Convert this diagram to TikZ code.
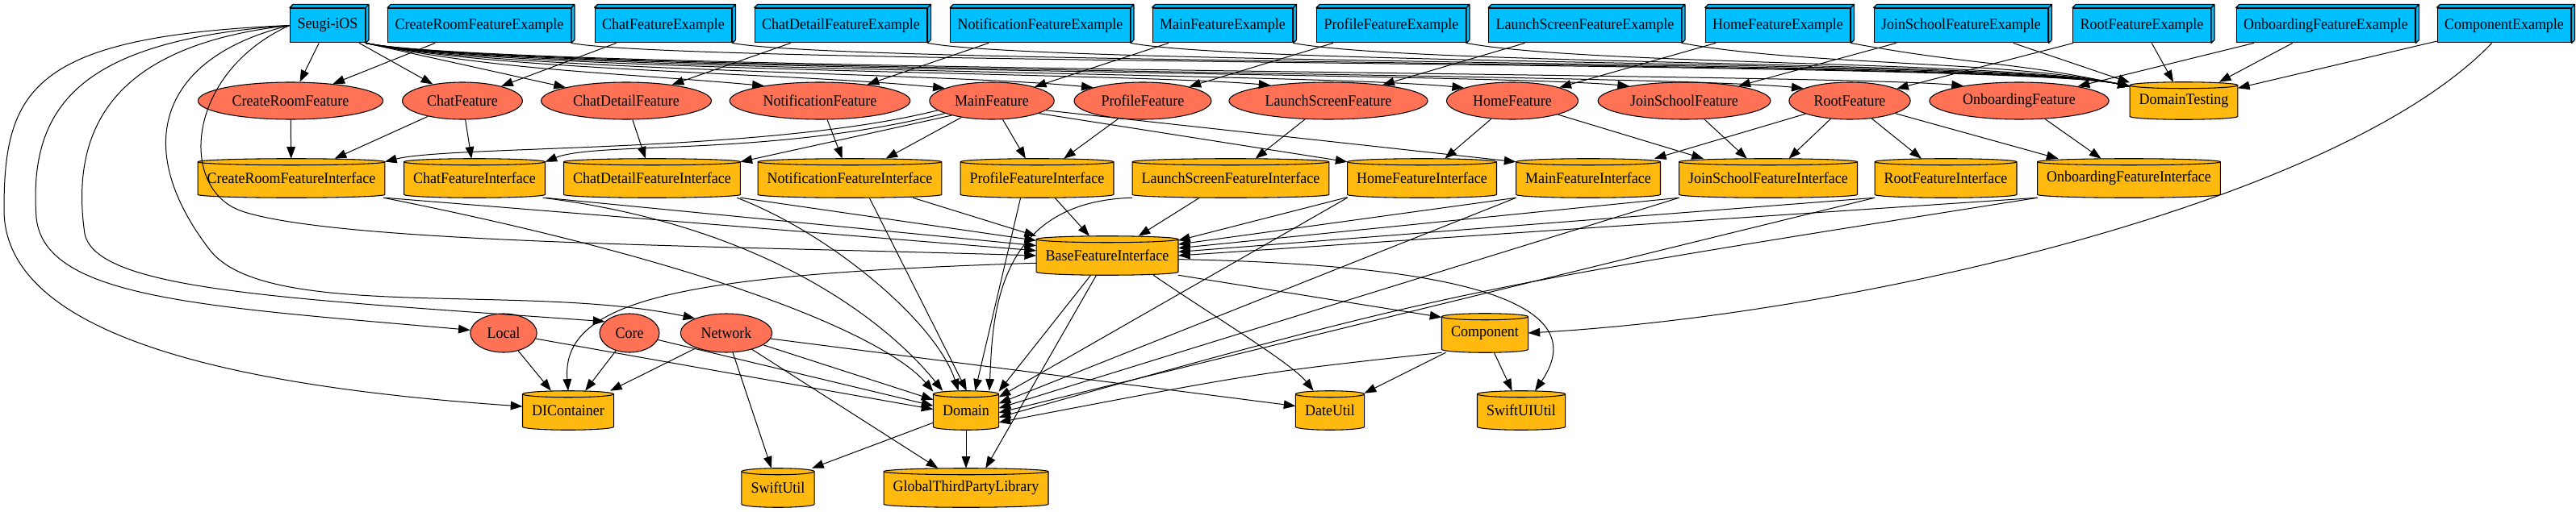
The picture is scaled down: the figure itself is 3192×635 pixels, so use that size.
\documentclass[tikz,border=0pt]{standalone}
\usepackage{fontspec}
\setmainfont{Liberation Serif}[FakeStretch=0.93]
\usetikzlibrary{arrows.meta, shapes.geometric, calc, backgrounds}

\definecolor{exblue}{HTML}{00BFFF}
\definecolor{featred}{HTML}{FF7256}
\definecolor{modgold}{HTML}{FFB90F}

\tikzset{
  exbox/.style={rectangle, draw, fill=exblue, line width=0.9pt, minimum height=32pt, inner xsep=6.75pt},
  featnode/.style={ellipse, draw, fill=featred, line width=0.8pt, minimum height=34.5pt, inner xsep=6.5pt, inner ysep=1pt},
  modnode/.style={rectangle, minimum height=36pt, inner xsep=8.5pt},
  dep/.style={-{Triangle[length=11pt,width=8pt]}, line width=0.75pt},
  cylface/.style={draw, fill=modgold, line width=0.8pt},
  boxface/.style={draw, fill=exblue, line width=0.9pt, line join=round}
}

\begin{document}
\begin{tikzpicture}[x=0.75pt, y=0.75pt, font=\fontsize{14.5}{17}\selectfont]
    \useasboundingbox (0,0) rectangle (3192,-635);

    % Example targets (top row)
    \node[exbox] (seugi) at (406,-31.5) {Seugi-iOS};
    \node[exbox] (crfe) at (594,-31.5) {CreateRoomFeatureExample};
    \node[exbox] (chfe) at (822,-31.5) {ChatFeatureExample};
    \node[exbox] (cdfe) at (1042,-31.5) {ChatDetailFeatureExample};
    \node[exbox] (nfe) at (1289,-31.5) {NotificationFeatureExample};
    \node[exbox] (mfe) at (1515,-31.5) {MainFeatureExample};
    \node[exbox] (pfe) at (1724,-31.5) {ProfileFeatureExample};
    \node[exbox] (lsfe) at (1964,-31.5) {LaunchScreenFeatureExample};
    \node[exbox] (hfe) at (2203,-31.5) {HomeFeatureExample};
    \node[exbox] (jsfe) at (2430,-31.5) {JoinSchoolFeatureExample};
    \node[exbox] (rfe) at (2654,-31.5) {RootFeatureExample};
    \node[exbox] (ofe) at (2882,-31.5) {OnboardingFeatureExample};
    \node[exbox] (cpe) at (3103,-31.5) {ComponentExample};

    % Features
    \node[featnode] (crf) at (360,-125) {CreateRoomFeature};
    \node[featnode] (chf) at (573,-125) {ChatFeature};
    \node[featnode] (cdf) at (776,-125) {ChatDetailFeature};
    \node[featnode] (nf) at (1016,-125) {NotificationFeature};
    \node[featnode] (mf) at (1229,-125) {MainFeature};
    \node[featnode] (pf) at (1416,-125) {ProfileFeature};
    \node[featnode] (lsf) at (1646,-125) {LaunchScreenFeature};
    \node[featnode] (hf) at (1874,-125) {HomeFeature};
    \node[featnode] (jsf) at (2087,-125) {JoinSchoolFeature};
    \node[featnode] (rf) at (2292,-125) {RootFeature};
    \node[featnode] (of) at (2502,-125) {OnboardingFeature};
    \node[modnode, minimum height=34.5pt] (dt) at (2706,-125) {DomainTesting};

    % Interfaces
    \node[modnode] (crfi) at (361,-221) {CreateRoomFeatureInterface};
    \node[modnode] (chfi) at (588,-221) {ChatFeatureInterface};
    \node[modnode] (cdfi) at (808,-221) {ChatDetailFeatureInterface};
    \node[modnode] (nfi) at (1053,-221) {NotificationFeatureInterface};
    \node[modnode] (pfi) at (1285,-221) {ProfileFeatureInterface};
    \node[modnode] (lsfi) at (1525,-221) {LaunchScreenFeatureInterface};
    \node[modnode] (hfi) at (1762,-221) {HomeFeatureInterface};
    \node[modnode] (mfi) at (1968,-221) {MainFeatureInterface};
    \node[modnode] (jsfi) at (2191,-221) {JoinSchoolFeatureInterface};
    \node[modnode] (rfi) at (2411,-221) {RootFeatureInterface};
    \node[modnode] (ofi) at (2638,-221) {OnboardingFeatureInterface};
    \node[modnode] (bfi) at (1372,-317) {BaseFeatureInterface};

    % Core modules
    \node[featnode, minimum height=36pt] (local) at (624,-413) {Local};
    \node[featnode, minimum height=36pt] (core) at (780,-413) {Core};
    \node[featnode, minimum height=36pt] (net) at (900,-413) {Network};
    \node[modnode] (comp) at (1840,-413) {Component};
    \node[modnode] (dic) at (704,-509) {DIContainer};
    \node[modnode] (dom) at (1197,-509) {Domain};
    \node[modnode] (du) at (1648,-509) {DateUtil};
    \node[modnode] (sui) at (1885,-509) {SwiftUIUtil};
    \node[modnode] (su) at (964,-605) {SwiftUtil};
    \node[modnode] (gtpl) at (1197,-605) {GlobalThirdPartyLibrary};

    % Seugi-iOS -> features
    \draw[dep] (seugi) -- (crf);
    \draw[dep] (seugi) -- (chf);
    \draw[dep] (seugi.south east) -- (cdf);
    \foreach \f/\cx in {nf/1016, mf/1229, pf/1416, lsf/1646, hf/1874, jsf/2087, rf/2292, of/2502}
        \draw[dep] (seugi.south east) .. controls (620,-88) and (\cx-250,-90) .. (\f.165);

    % Seugi-iOS -> modules (left side)
    \draw[dep] (seugi.west) .. controls (40,-45) and (5,-110) .. (5,-260) .. controls (5,-420) and (300,-480) .. (dic.175);
    \draw[dep] (seugi.west) .. controls (100,-50) and (35,-130) .. (45,-270) .. controls (55,-370) and (250,-380) .. (local.175);
    \draw[dep] (seugi.west) .. controls (150,-55) and (85,-150) .. (105,-290) .. controls (120,-360) and (350,-370) .. (core.155);
    \draw[dep] (seugi.west) .. controls (200,-70) and (160,-180) .. (260,-310) .. controls (330,-400) and (650,-350) .. (net.155);
    \draw[dep] (seugi.west) .. controls (230,-90) and (220,-235) .. (300,-262) .. controls (420,-302) and (900,-305) .. (bfi.180);

    % Examples -> features
    \draw[dep] (crfe) -- (crf);
    \draw[dep] (chfe) -- (chf);
    \draw[dep] (cdfe) -- (cdf);
    \draw[dep] (nfe) -- (nf);
    \draw[dep] (mfe) -- (mf);
    \draw[dep] (pfe) -- (pf);
    \draw[dep] (lsfe) -- (lsf);
    \draw[dep] (hfe) -- (hf);
    \draw[dep] (jsfe) -- (jsf);
    \draw[dep] (rfe) -- (rf);
    \draw[dep] (ofe) -- (of);
    \draw[dep] (cpe.235) .. controls (2900,-250) and (2300,-390) .. (comp.east);

    % Examples -> DomainTesting
    \foreach \e in {crfe, chfe, cdfe, nfe, mfe, pfe, lsfe, hfe}
        \draw[dep] (\e.south east) .. controls +(150,-28) and +(-150,32) .. (dt.165);
    \draw[dep] (jsfe) -- (dt);
    \draw[dep] (rfe) -- (dt);
    \draw[dep] (ofe) -- (dt);
    \draw[dep] (cpe) -- (dt);

    % Features -> interfaces
    \draw[dep] (crf) -- (crfi);
    \draw[dep] (chf) -- (crfi);
    \draw[dep] (chf) -- (chfi);
    \draw[dep] (cdf) -- (cdfi);
    \draw[dep] (nf) -- (nfi);
    \draw[dep] (mf.190) .. controls (950,-190) and (560,-180) .. (crfi.10);
    \draw[dep] (mf.195) .. controls (950,-195) and (740,-175) .. ($(chfi.north east)+(0,-4)$);
    \draw[dep] (mf.200) -- ($(cdfi.north east)+(0,-4)$);
    \draw[dep] (mf) -- (nfi);
    \draw[dep] (mf) -- (pfi);
    \draw[dep] (mf.-15) -- ($(hfi.north west)+(0,-4)$);
    \draw[dep] (mf.-10) -- ($(mfi.north west)+(0,-4)$);
    \draw[dep] (pf) -- (pfi);
    \draw[dep] (lsf) -- (lsfi);
    \draw[dep] (hf) -- (hfi);
    \draw[dep] (hf) -- (jsfi);
    \draw[dep] (jsf) -- (jsfi);
    \draw[dep] (rf) -- (mfi);
    \draw[dep] (rf) -- (jsfi);
    \draw[dep] (rf) -- (rfi);
    \draw[dep] (rf) -- (ofi);
    \draw[dep] (of) -- (ofi);

    % Interfaces -> BaseFeatureInterface
    \draw[dep] (crfi.south east) -- (bfi.176);
    \draw[dep] (chfi.south east) -- (bfi.172);
    \draw[dep] (cdfi.south east) -- (bfi.168);
    \draw[dep] (nfi) -- (bfi.north west);
    \draw[dep] (pfi) -- (bfi);
    \draw[dep] (lsfi) -- (bfi);
    \draw[dep] (hfi) -- (bfi.12);
    \draw[dep] (mfi.south west) -- (bfi.9);
    \draw[dep] (jsfi.south west) -- (bfi.6);
    \draw[dep] (rfi.south west) -- (bfi.3);
    \draw[dep] (ofi.south west) -- (bfi.0);

    % Interfaces -> Domain
    \draw[dep] (crfi.-12) .. controls (900,-330) and (1100,-420) .. (dom.150);
    \draw[dep] (chfi.-16) .. controls (950,-280) and (1100,-400) .. (dom.140);
    \draw[dep] (cdfi.-13) .. controls (1030,-290) and (1160,-400) .. (dom.111);
    \draw[dep] (nfi.-45) -- (dom.88);
    \draw[dep] (pfi.-130) -- (dom.65);
    \draw[dep] (lsfi.south west) .. controls (1230,-250) and (1230,-400) .. (dom.40);
    \draw[dep] (hfi.south west) -- (dom.22);
    \draw[dep] (mfi.south west) -- (dom.12);
    \draw[dep] (jsfi.south west) -- (dom.4);
    \draw[dep] (rfi.south west) -- (dom.-4);
    \draw[dep] (ofi.south west) .. controls (1800,-360) .. (dom.-12);

    % BaseFeatureInterface
    \draw[dep] (bfi.-130) -- (dom.30);
    \draw[dep] (bfi.186) .. controls (850,-340) and (695,-370) .. (dic.north);
    \draw[dep] (bfi.-119) -- (gtpl.45);
    \draw[dep] (bfi.south east) -- (comp.160);
    \draw[dep] (bfi.-23) .. controls (1500,-390) and (1600,-450) .. (du.130);
    \draw[dep] (bfi.-3) .. controls (1900,-330) and (1960,-400) .. (sui.55);

    % Local, Core, Network
    \draw[dep] (local) -- (dic.131);
    \draw[dep] (local) -- (dom.178);
    \draw[dep] (core) -- (dic.49);
    \draw[dep] (core) -- (dom.172);
    \draw[dep] (net) -- (dic.25);
    \draw[dep] (net) -- (dom.162);
    \draw[dep] (net) -- (su);
    \draw[dep] (net) -- (gtpl.145);
    \draw[dep] (net) -- (du);

    % Component, Domain
    \draw[dep] (comp.south west) .. controls (1560,-462) .. (dom.-20);
    \draw[dep] (comp) -- (du);
    \draw[dep] (comp) -- (sui);
    \draw[dep] (dom) -- (su.30);
    \draw[dep] (dom) -- (gtpl);

    % cylinders and box sides
    \begin{scope}[on background layer]
        \foreach \cyl in {dt, crfi, chfi, cdfi, nfi, pfi, lsfi, hfi, mfi, jsfi, rfi, ofi, bfi, comp, dic, dom, du, sui, su, gtpl} {
            \draw[cylface] let \p1=(\cyl.north west), \p2=(\cyl.south east), \n1={(\x2-\x1)/2} in
                (\x1,\y1-3pt) -- (\x1,\y2+3pt) arc[start angle=180, end angle=360, x radius=\n1, y radius=3pt]
                -- (\x2,\y1-3pt) arc[start angle=0, end angle=180, x radius=\n1, y radius=3pt] -- cycle;
            \draw[line width=0.8pt] let \p1=(\cyl.north west), \p2=(\cyl.south east), \n1={(\x2-\x1)/2} in
                (\x1,\y1-3pt) arc[start angle=180, end angle=360, x radius=\n1, y radius=3pt];
        }
        \foreach \bx in {seugi, crfe, chfe, cdfe, nfe, mfe, pfe, lsfe, hfe, jsfe, rfe, ofe, cpe}
            \draw[boxface] (\bx.north west) -- ++(4,4) -- ($(\bx.north east)+(4,4)$) -- ($(\bx.south east)+(4,4)$)
                -- (\bx.south east) -- (\bx.north east) -- cycle (\bx.north east) -- ++(4,4);
    \end{scope}
\end{tikzpicture}
\end{document}
